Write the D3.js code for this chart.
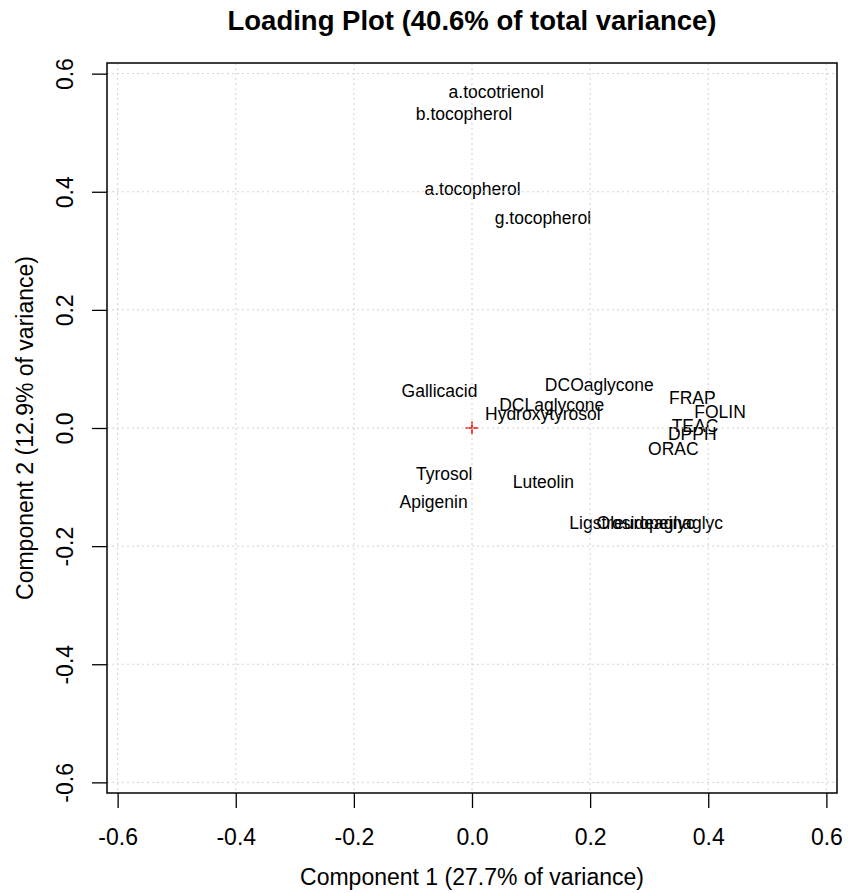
<!DOCTYPE html>
<html>
<head>
  <style>
    body {
      margin: 0;
      background: #fff;
      font-family: "Liberation Sans", Arial, Helvetica, sans-serif;
    }
    .label {
      font-size: 17.5px;
      text-anchor: middle;
    }
    .tick-label {
      font-size: 23px;
      text-anchor: middle;
    }
  </style>
</head>
<body>
  <script src="https://d3js.org/d3.v7.min.js"></script>
  <script>
    // variable loadings
    var names = ["a.tocotrienol", "b.tocopherol", "a.tocopherol", "g.tocopherol",
      "Gallicacid", "DCOaglycone", "DCLaglycone", "Hydroxytyrosol",
      "FRAP", "FOLIN", "TEAC", "DPPH", "ORAC",
      "Tyrosol", "Luteolin", "Apigenin", "Ligstrosideaglyc", "Oleuropeinaglyc"];
    var pc1 = [0.041, -0.0135, 0.001, 0.120,
      -0.055, 0.2156, 0.135, 0.120,
      0.373, 0.420, 0.3776, 0.373, 0.341,
      -0.047, 0.121, -0.065, 0.271, 0.318];
    var pc2 = [0.570, 0.533, 0.406, 0.356,
      0.064, 0.0725, 0.040, 0.025,
      0.0506, 0.027, 0.004, -0.0093, -0.0346,
      -0.0776, -0.091, -0.124, -0.161, -0.161];
    var ticks = [-0.6, -0.4, -0.2, 0.0, 0.2, 0.4, 0.6];
    var tickLabels = ["-0.6", "-0.4", "-0.2", "0.0", "0.2", "0.4", "0.6"];

    var W = 858, H = 893;
    var margin = {top: 63, right: 21, bottom: 100, left: 107};
    var width = W - margin.left - margin.right,
        height = H - margin.top - margin.bottom;

    var svg = d3.select("body").append("svg")
        .attr("width", W)
        .attr("height", H);

    var g = svg.append("g")
        .attr("transform", "translate(" + margin.left + "," + margin.top + ")");

    var x = d3.scaleLinear().domain([-0.618, 0.618]).range([0, width]);
    var y = d3.scaleLinear().domain([-0.618, 0.618]).range([height, 0]);

    var data = names.map(function(d, i){ return {name: d, x: pc1[i], y: pc2[i]}; });

    // labels
    g.selectAll(".label")
      .data(data)
      .enter().append("text")
        .attr("class", "label")
        .attr("x", function(d){ return x(d.x); })
        .attr("y", function(d){ return y(d.y); })
        .attr("dy", "0.36em")
        .text(function(d){ return d.name; });

    // origin marker
    var cx = x(0), cy = y(0), s = 6.5;
    g.append("path")
      .attr("d", "M" + (cx - s) + "," + cy + "H" + (cx + s) + "M" + cx + "," + (cy - s) + "V" + (cy + s))
      .attr("stroke", "#ff0000")
      .attr("stroke-width", 1.6)
      .attr("fill", "none");

    // grid drawn over the labels, like grid() after text()
    g.selectAll(".vgrid")
      .data(ticks)
      .enter().append("line")
        .attr("x1", function(d){ return x(d); })
        .attr("x2", function(d){ return x(d); })
        .attr("y1", 0)
        .attr("y2", height)
        .attr("stroke", "#d3d3d3")
        .attr("stroke-dasharray", "2,3");

    g.selectAll(".hgrid")
      .data(ticks)
      .enter().append("line")
        .attr("y1", function(d){ return y(d); })
        .attr("y2", function(d){ return y(d); })
        .attr("x1", 0)
        .attr("x2", width)
        .attr("stroke", "#d3d3d3")
        .attr("stroke-dasharray", "2,3");

    // axes
    var xAxis = d3.axisBottom(x).tickValues(ticks).tickSize(15).tickFormat(function(d, i){ return tickLabels[i]; });
    var yAxis = d3.axisLeft(y).tickValues(ticks).tickSize(15).tickFormat(function(d, i){ return tickLabels[i]; });

    g.append("g")
      .attr("transform", "translate(0," + height + ")")
      .call(xAxis)
      .call(function(a){
        a.select(".domain").remove();
        a.selectAll(".tick line").attr("stroke", "#000").attr("stroke-width", 1.3);
        a.selectAll(".tick text")
          .attr("class", "tick-label")
          .attr("y", 52)
          .attr("dy", 0)
          .attr("fill", "#000")
          .style("font-family", "'Liberation Sans', Arial, sans-serif");
      });

    g.append("g")
      .call(yAxis)
      .call(function(a){
        a.select(".domain").remove();
        a.selectAll(".tick line").attr("stroke", "#000").attr("stroke-width", 1.3);
        a.selectAll(".tick text")
          .attr("class", "tick-label")
          .attr("x", 0)
          .attr("dy", 0)
          .attr("transform", "translate(-34,0) rotate(-90)")
          .attr("fill", "#000")
          .style("font-family", "'Liberation Sans', Arial, sans-serif");
      });

    // box
    g.append("rect")
      .attr("width", width)
      .attr("height", height)
      .attr("fill", "none")
      .attr("stroke", "#000")
      .attr("stroke-width", 1.5);

    // titles
    svg.append("text")
      .attr("x", margin.left + width / 2)
      .attr("y", 30)
      .attr("text-anchor", "middle")
      .style("font-size", "27.5px")
      .style("font-weight", "bold")
      .text("Loading Plot (40.6% of total variance)");

    svg.append("text")
      .attr("x", margin.left + width / 2)
      .attr("y", 885)
      .attr("text-anchor", "middle")
      .style("font-size", "23px")
      .text("Component 1 (27.7% of variance)");

    svg.append("text")
      .attr("transform", "translate(33," + (margin.top + height / 2) + ") rotate(-90)")
      .attr("text-anchor", "middle")
      .style("font-size", "23px")
      .text("Component 2 (12.9% of variance)");
  </script>
</body>
</html>
